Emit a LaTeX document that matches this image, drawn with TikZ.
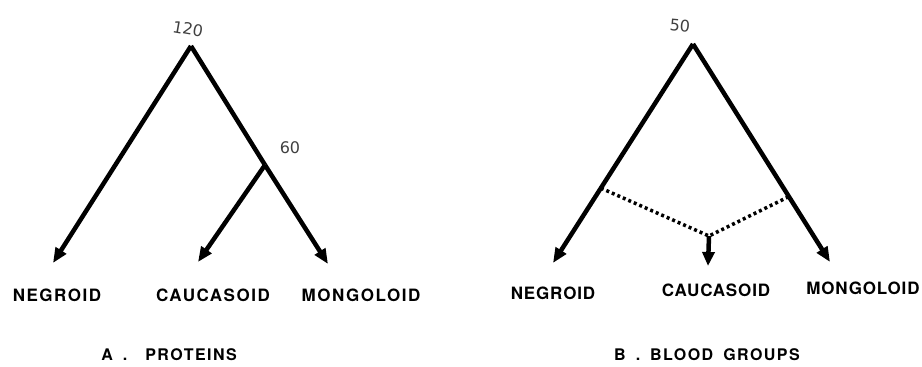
\documentclass[tikz,border=0pt]{standalone}
\usepackage{fontspec}
\setmainfont{TeX Gyre Heros}
\newfontfamily\lblA{TeX Gyre Heros}[LetterSpace=9]
\newfontfamily\lblB{TeX Gyre Heros}[LetterSpace=5]
\newfontfamily\hand{DejaVu Sans}
\usetikzlibrary{arrows.meta,calc}
\begin{document}
\begin{tikzpicture}[x=1pt,y=-1pt,
  branch/.style={line width=4.5pt},
  arr/.style={branch,-{Triangle[width=12pt,length=15pt]}},
  dots/.style={line width=3.5pt,dash pattern=on 3pt off 3pt},
  lbla/.style={font=\lblA\fontsize{17}{17}\selectfont\bfseries,inner sep=0pt},
  lblb/.style={font=\lblB\fontsize{17}{17}\selectfont\bfseries,inner sep=0pt},
  captxt/.style={font=\lblA\fontsize{16}{16}\selectfont\bfseries,inner sep=0pt},
  note/.style={font=\hand\fontsize{16}{16}\selectfont,text=black!75,inner sep=0pt}]
\useasboundingbox (0,0) rectangle (922,367);
% Panel A
\coordinate (A0) at (191,46);
\coordinate (A1) at (265,165);
\coordinate (An) at (53,263);
\coordinate (Ac) at (198,262);
\coordinate (Am) at (328,264);
\draw[arr] (A0) -- (An);
\draw[branch] (A0) -- (A1);
\draw[arr] (A1) -- (Am);
\draw[arr] (A1) -- (Ac);
\node[lbla] (neg1) at (57,295) {NEGROID};
\node[lbla] (cau1) at (213,295) {CAUCASOID};
\node[lbla] (mon1) at (361,295) {MONGOLOID};
\node[captxt] (capA) at (169,355) {A\hspace{10pt}.\hspace{18pt}PROTEINS};
\node[note,rotate=-10] (n120) at (188,29) {120};
\node[note] (n60) at (290,148) {60};
% Panel B
\coordinate (B0) at (693,44);
\coordinate (Bn) at (553,263);
\coordinate (Bmo) at (830,262);
\coordinate (Bl) at ($(B0)!0.658!(Bn)$);
\coordinate (Br) at ($(B0)!0.70!(Bmo)$);
\coordinate (Bm) at (709,236);
\coordinate (Bc) at (708,266);
\draw[arr] (B0) -- (Bn);
\draw[arr] (B0) -- (Bmo);
\draw[dots] (Bl) -- (Bm) -- (Br);
\draw[branch,-{Triangle[width=12pt,length=14pt]}] (Bm) -- (Bc);
\node[lblb] (neg2) at (553,293) {NEGROID};
\node[lblb] (cau2) at (716,290) {CAUCASOID};
\node[lblb] (mon2) at (863,288) {MONGOLOID};
\node[captxt] (capB) at (707,355) {B\hspace{10pt}.\hspace{10pt}BLOOD\hspace{10pt}GROUPS};
\node[note,rotate=-5] (n50) at (680,26) {50};
\end{tikzpicture}
\end{document}
